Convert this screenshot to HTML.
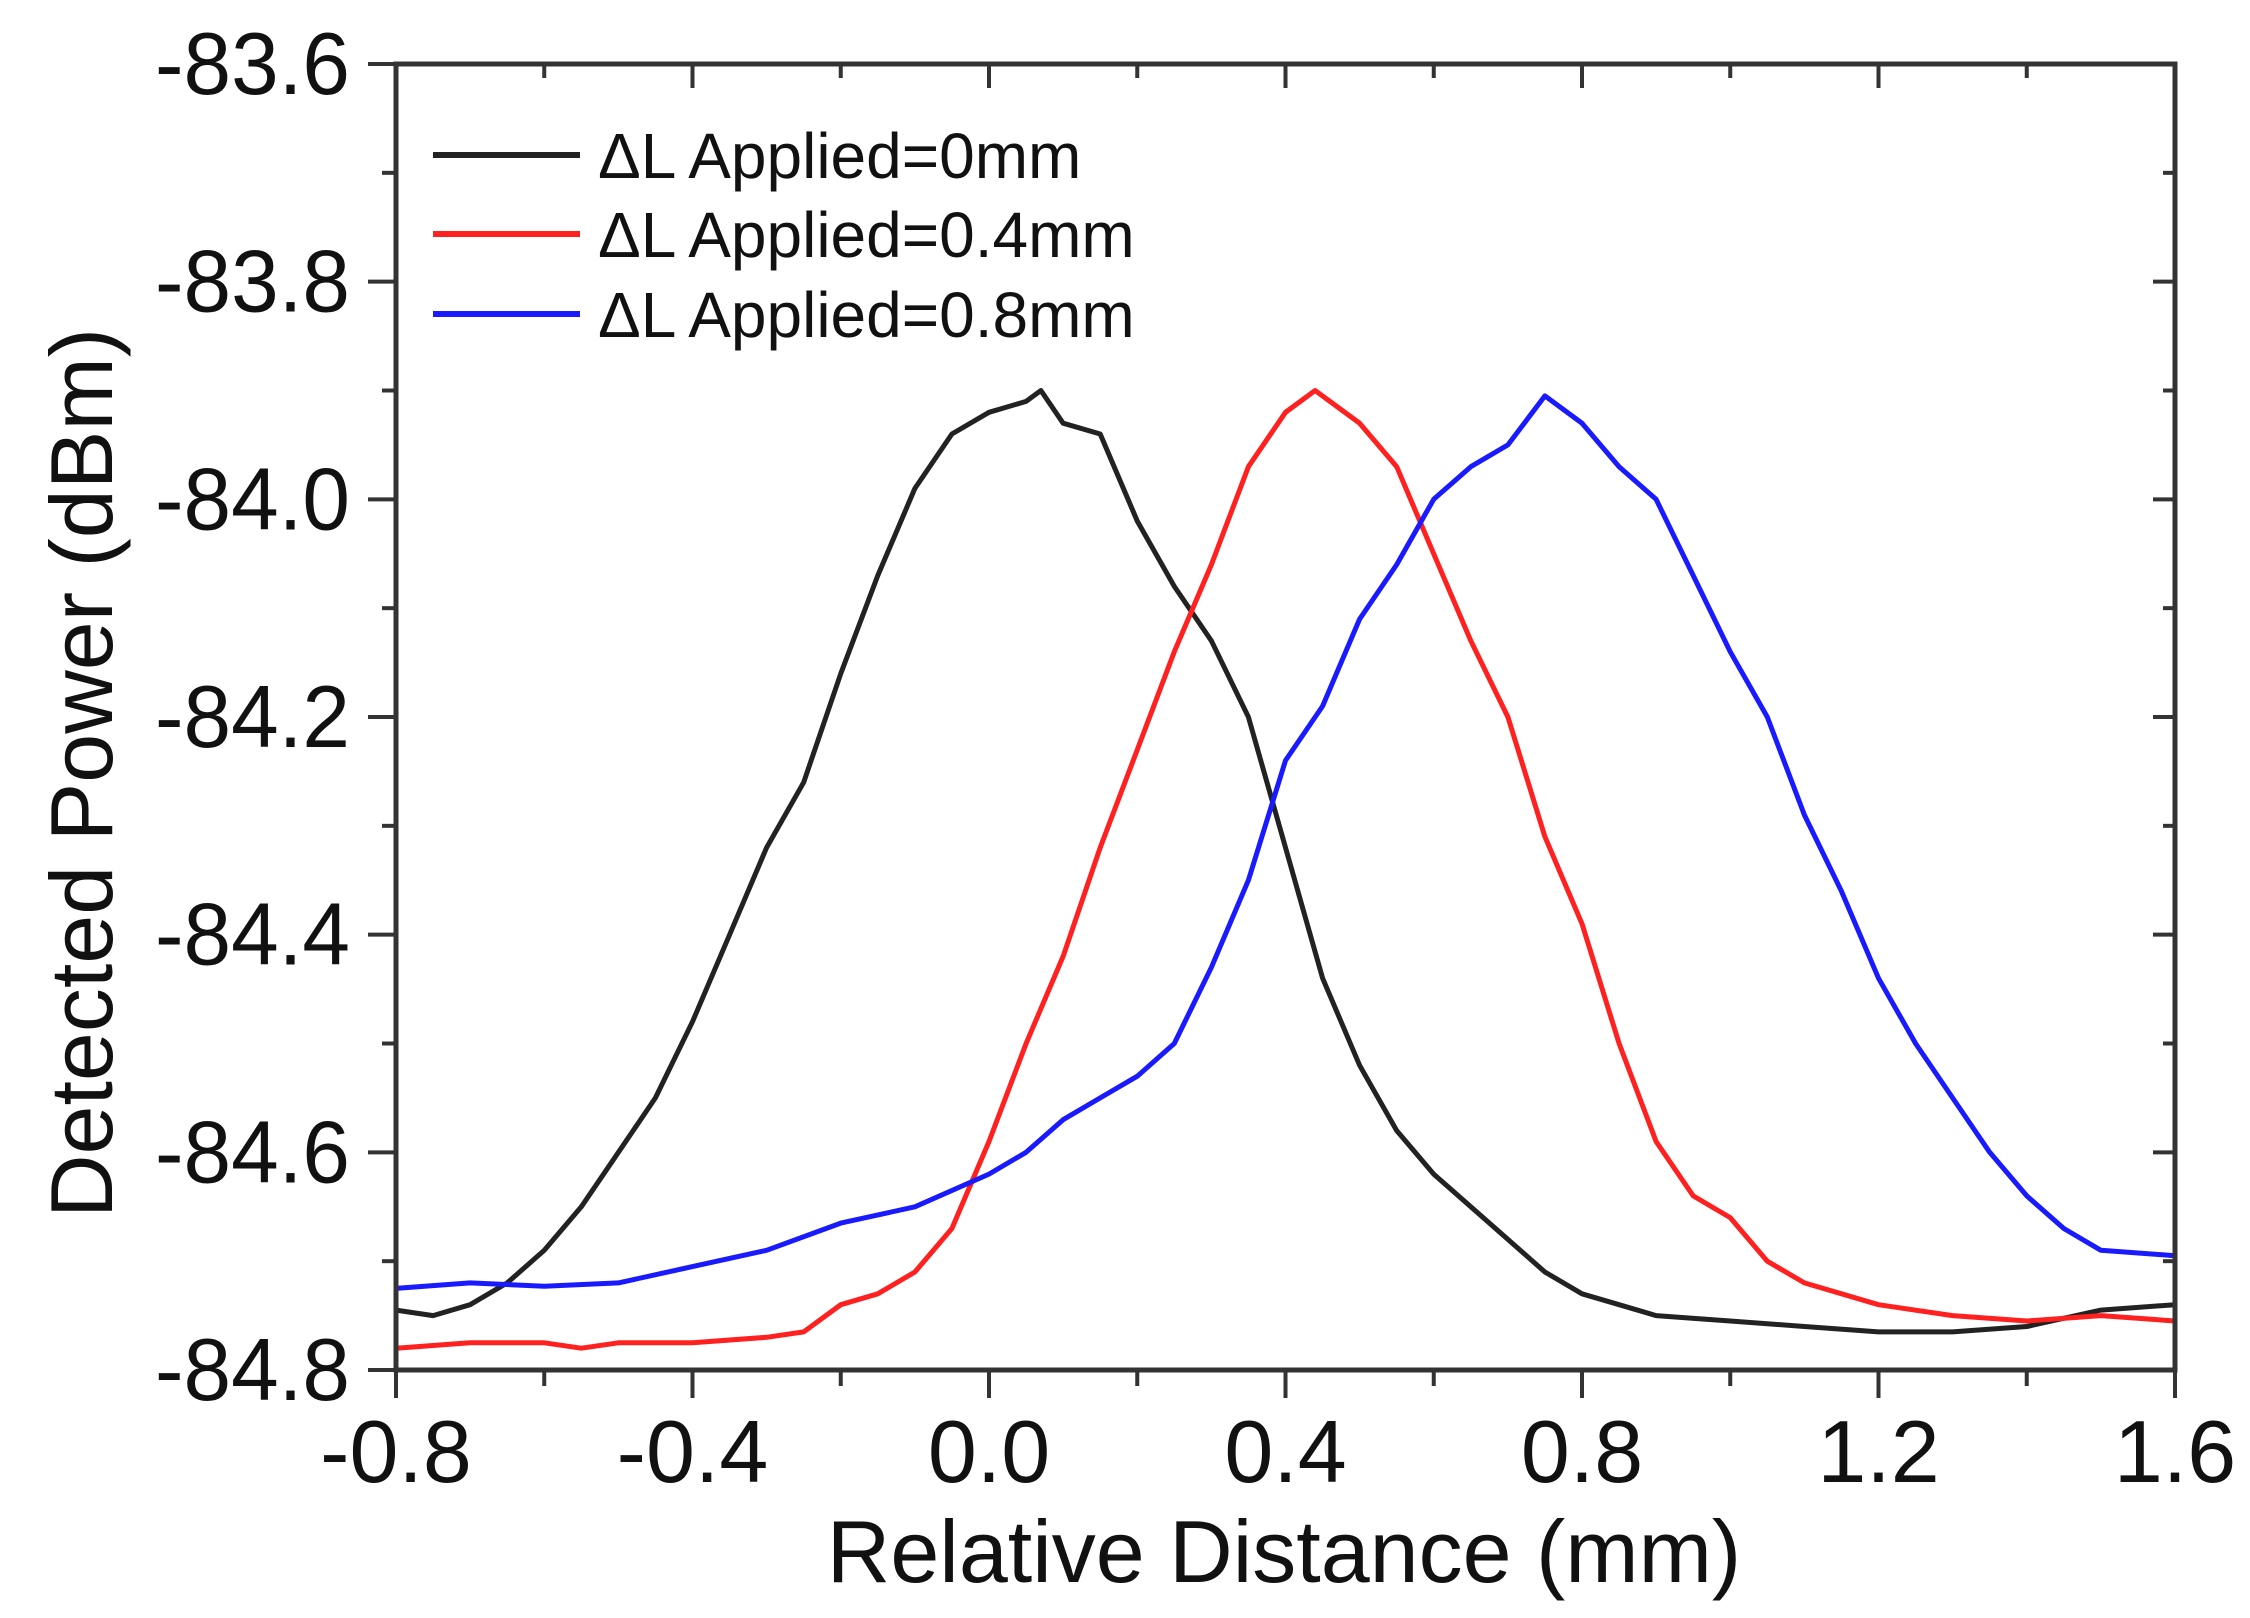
<!DOCTYPE html>
<html><head><meta charset="utf-8"><style>
html,body{margin:0;padding:0;background:#fff;}
svg{display:block;}
text{font-family:"Liberation Sans",Arial,sans-serif;fill:#111;}
</style></head><body>
<svg id="chart" width="2250" height="1618" viewBox="0 0 2250 1618" xmlns="http://www.w3.org/2000/svg">
<g id="marks"></g>
<g id="axes"></g>
<text x="1284" y="1582" font-size="88" text-anchor="middle">Relative Distance (mm)</text>
<text x="0" y="0" font-size="88" text-anchor="middle" transform="translate(112,773) rotate(-90)">Detected Power (dBm)</text>
<g>
<line x1="433" y1="155" x2="580" y2="155" stroke="#222" stroke-width="6"/>
<text x="598" y="178" font-size="64">ΔL Applied=0mm</text>
<line x1="433" y1="234" x2="580" y2="234" stroke="#ff2020" stroke-width="6"/>
<text x="598" y="257" font-size="64">ΔL Applied=0.4mm</text>
<line x1="433" y1="314" x2="580" y2="314" stroke="#1a1aff" stroke-width="6"/>
<text x="598" y="337" font-size="64">ΔL Applied=0.8mm</text>
</g>
</svg>
<script>
const xTicks = [-0.8, -0.4, 0.0, 0.4, 0.8, 1.2, 1.6];
const xTickLabels = ["-0.8", "-0.4", "0.0", "0.4", "0.8", "1.2", "1.6"];
const yTicks = [-83.6, -83.8, -84.0, -84.2, -84.4, -84.6, -84.8];
const yTickLabels = ["-83.6", "-83.8", "-84.0", "-84.2", "-84.4", "-84.6", "-84.8"];
const blackX = [-0.8,-0.75,-0.7,-0.65,-0.6,-0.55,-0.5,-0.45,-0.4,-0.35,-0.3,-0.25,-0.2,-0.15,-0.1,-0.05,0.0,0.05,0.07,0.1,0.15,0.2,0.25,0.3,0.35,0.4,0.45,0.5,0.55,0.6,0.65,0.7,0.75,0.8,0.85,0.9,1.0,1.1,1.2,1.3,1.4,1.5,1.6];
const blackY = [-84.745,-84.75,-84.74,-84.72,-84.69,-84.65,-84.60,-84.55,-84.48,-84.40,-84.32,-84.26,-84.16,-84.07,-83.99,-83.94,-83.92,-83.91,-83.90,-83.93,-83.94,-84.02,-84.08,-84.13,-84.20,-84.32,-84.44,-84.52,-84.58,-84.62,-84.65,-84.68,-84.71,-84.73,-84.74,-84.75,-84.755,-84.76,-84.765,-84.765,-84.76,-84.745,-84.74];
const redX = [-0.8,-0.7,-0.6,-0.55,-0.5,-0.4,-0.3,-0.25,-0.2,-0.15,-0.1,-0.05,0.0,0.05,0.1,0.15,0.2,0.25,0.3,0.35,0.4,0.44,0.5,0.55,0.6,0.65,0.7,0.75,0.8,0.85,0.9,0.95,1.0,1.05,1.1,1.2,1.3,1.4,1.5,1.6];
const redY = [-84.78,-84.775,-84.775,-84.78,-84.775,-84.775,-84.77,-84.765,-84.74,-84.73,-84.71,-84.67,-84.59,-84.50,-84.42,-84.32,-84.23,-84.14,-84.06,-83.97,-83.92,-83.90,-83.93,-83.97,-84.05,-84.13,-84.20,-84.31,-84.39,-84.50,-84.59,-84.64,-84.66,-84.70,-84.72,-84.74,-84.75,-84.755,-84.75,-84.755];
const blueX = [-0.8,-0.7,-0.6,-0.5,-0.4,-0.3,-0.2,-0.1,0.0,0.05,0.1,0.15,0.2,0.25,0.3,0.35,0.4,0.45,0.5,0.55,0.6,0.65,0.7,0.75,0.8,0.85,0.9,0.95,1.0,1.05,1.1,1.15,1.2,1.25,1.3,1.35,1.4,1.45,1.5,1.6];
const blueY = [-84.725,-84.72,-84.723,-84.72,-84.705,-84.69,-84.665,-84.65,-84.62,-84.60,-84.57,-84.55,-84.53,-84.50,-84.43,-84.35,-84.24,-84.19,-84.11,-84.06,-84.00,-83.97,-83.95,-83.905,-83.93,-83.97,-84.00,-84.07,-84.14,-84.20,-84.29,-84.36,-84.44,-84.50,-84.55,-84.60,-84.64,-84.67,-84.69,-84.695];

const L=396, R=2175, T=64, B=1370;
const xMin=-0.8, xMax=1.6, yMin=-84.8, yMax=-83.6;
function sx(v){return L+(v-xMin)/(xMax-xMin)*(R-L);}
function sy(v){return B-(v-yMin)/(yMax-yMin)*(B-T);}
const NS="http://www.w3.org/2000/svg";
const marks=document.getElementById('marks');
const axes=document.getElementById('axes');
function mk(tag,attrs,parent){const e=document.createElementNS(NS,tag);for(const k in attrs)e.setAttribute(k,attrs[k]);parent.appendChild(e);return e;}

function series(xs,ys,color,name){
  const d=xs.map((x,i)=>(i?'L':'M')+sx(x).toFixed(1)+' '+sy(ys[i]).toFixed(1)).join(' ');
  const p=mk('path',{d:d,fill:'none',stroke:color,'stroke-width':5,'stroke-linejoin':'round'},marks);
  
  
}
series(blackX,blackY,'#222','series-0mm');
series(redX,redY,'#ff2020','series-0.4mm');
series(blueX,blueY,'#1a1aff','series-0.8mm');

const frame=mk('rect',{x:L,y:T,width:R-L,height:B-T,fill:'none',stroke:'#333','stroke-width':5},axes);



const st={stroke:'#333','stroke-width':4};
xTicks.forEach((v,i)=>{
  const x=sx(v);
  mk('line',Object.assign({x1:x,y1:B,x2:x,y2:B+28},st),axes);
  mk('line',Object.assign({x1:x,y1:T,x2:x,y2:T+24},st),axes);
  if(i<xTicks.length-1){
    const xm=sx(v+0.2);
    mk('line',Object.assign({x1:xm,y1:B,x2:xm,y2:B+16},st),axes);
    mk('line',Object.assign({x1:xm,y1:T,x2:xm,y2:T+14},st),axes);
  }
  const t=mk('text',{x:x,y:1482,'font-size':88,'text-anchor':'middle'},axes);
  t.textContent=xTickLabels[i];
  
  
});
yTicks.forEach((v,i)=>{
  const y=sy(v);
  mk('line',Object.assign({x1:L-28,y1:y,x2:L,y2:y},st),axes);
  mk('line',Object.assign({x1:R-22,y1:y,x2:R,y2:y},st),axes);
  if(i<yTicks.length-1){
    const ym=sy(v-0.1);
    mk('line',Object.assign({x1:L-14,y1:ym,x2:L,y2:ym},st),axes);
    mk('line',Object.assign({x1:R-12,y1:ym,x2:R,y2:ym},st),axes);
  }
  const t=mk('text',{x:350,y:y+30,'font-size':88,'text-anchor':'end',textLength:195,lengthAdjust:'spacingAndGlyphs'},axes);
  t.textContent=yTickLabels[i];
  
  
});
</script>
</body></html>
